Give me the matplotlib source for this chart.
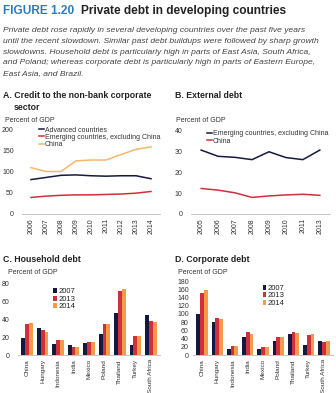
import matplotlib
matplotlib.use("Agg")
import matplotlib.pyplot as plt
import numpy as np

plt.rcParams['font.family'] = ['Liberation Sans', 'DejaVu Sans']

# Panel A: credit to the non-bank corporate sector (percent of GDP)
years_a = ["2006", "2007", "2008", "2009", "2010", "2011", "2012", "2013", "2014"]
advanced = [81, 86, 91, 92, 90, 89, 90, 90, 83]
emerging_a = [39, 42, 44, 45, 45, 46, 47, 49, 53]
china_a = [109, 100, 100, 125, 127, 127, 140, 152, 158]

# Panel B: external debt (percent of GDP)
years_b = ["2005", "2006", "2007", "2008", "2009", "2010", "2011", "2013"]
emerging_b = [30.8, 27.8, 27.3, 26.2, 30.0, 27.2, 26.2, 30.8]
china_b = [12.3, 11.5, 10.2, 8.0, 8.7, 9.2, 9.5, 9.0]

# Panels C and D: household and corporate debt by country
countries = ["China", "Hungary", "Indonesia", "India", "Mexico", "Poland",
             "Thailand", "Turkey", "South Africa"]
house_2007 = [19, 30, 12, 11, 13, 23, 47, 11, 44]
house_2013 = [34, 28, 17, 9, 14, 34, 71, 21, 38]
house_2014 = [36, 26, 17, 9, 14, 35, 73, 21, 37]
corp_2007 = [100, 80, 15, 45, 15, 35, 50, 25, 35]
corp_2013 = [152, 90, 22, 55, 20, 43, 55, 48, 32]
corp_2014 = [158, 87, 21, 52, 20, 44, 54, 52, 33]

NAVY = "#14193f"
RED = "#d0303c"
ORANGE = "#f49a4c"
LIGHT_ORANGE = "#f6b76b"
TEXT = "#333333"
BLUE = "#2c7dbd"

W, H = 336, 393
fig = plt.figure(figsize=(W / 100, H / 100), dpi=100)


def px_axes(x0, y_top, x1, y_bot):
    return fig.add_axes([x0 / W, 1 - y_bot / H, (x1 - x0) / W, (y_bot - y_top) / H])


def ftext(x, y, s, **kw):
    fig.text(x / W, 1 - y / H, s, **kw)


# Header
ftext(3, 11, "FIGURE 1.20", fontsize=8.6, fontweight="bold", color=BLUE, va="center")
ftext(81, 11, "Private debt in developing countries", fontsize=8.6,
      fontweight="bold", color="#222222", va="center")
para = ["Private debt rose rapidly in several developing countries over the past five years",
        "until the recent slowdown. Similar past debt buildups were followed by sharp growth",
        "slowdowns. Household debt is particularly high in parts of East Asia, South Africa,",
        "and Poland; whereas corporate debt is particularly high in parts of Eastern Europe,",
        "East Asia, and Brazil."]
for i, line in enumerate(para):
    ftext(3, 31 + i * 10.6, line, fontsize=6.1, style="italic", color="#444444", va="center")


def style_axes(ax, ypad=5, xsize=5):
    for s in ["top", "right", "left"]:
        ax.spines[s].set_visible(False)
    ax.spines["bottom"].set_color("#bbbbbb")
    ax.spines["bottom"].set_linewidth(0.6)
    ax.tick_params(axis="y", length=0, labelsize=5, colors=TEXT, pad=ypad)
    ax.tick_params(axis="x", length=0, labelsize=xsize, colors=TEXT, pad=3)


# Panel A
ftext(3, 96, "A. Credit to the non-bank corporate", fontsize=6.3, fontweight="bold",
      color="#222222", va="center")
ftext(14, 107, "sector", fontsize=6.3, fontweight="bold", color="#222222", va="center")
ftext(5, 121, "Percent of GDP", fontsize=5, color=TEXT, va="center")
axA = px_axes(22, 129, 160, 214)
xa = np.arange(len(years_a))
axA.plot(xa, advanced, color=NAVY, lw=1.1, label="Advanced countries")
axA.plot(xa, emerging_a, color=RED, lw=1.1, label="Emerging countries, excluding China")
axA.plot(xa, china_a, color=LIGHT_ORANGE, lw=1.1, label="China")
axA.set_ylim(0, 200)
axA.set_yticks([0, 50, 100, 150, 200])
axA.set_xlim(-0.6, len(years_a) - 0.4)
axA.set_xticks(xa)
axA.set_xticklabels(years_a, rotation=90)
style_axes(axA, ypad=6)
axA.legend(loc="upper left", bbox_to_anchor=(0.1, 1.07), frameon=False, fontsize=5,
           handlelength=0.7, handletextpad=0.1, labelspacing=0.05, borderpad=0,
           labelcolor=TEXT)

# Panel B
ftext(175, 96, "B. External debt", fontsize=6.3, fontweight="bold", color="#222222", va="center")
ftext(176, 121, "Percent of GDP", fontsize=5, color=TEXT, va="center")
axB = px_axes(191, 131, 330, 214)
xb = np.arange(len(years_b))
axB.plot(xb, emerging_b, color=NAVY, lw=1.1, label="Emerging countries, excluding China")
axB.plot(xb, china_b, color=RED, lw=1.1, label="China")
axB.set_ylim(0, 40)
axB.set_yticks([0, 10, 20, 30, 40])
axB.set_xlim(-0.6, len(years_b) - 0.4)
axB.set_xticks(xb)
axB.set_xticklabels(years_b, rotation=90)
style_axes(axB, ypad=6)
axB.legend(loc="upper left", bbox_to_anchor=(0.09, 1.05), frameon=False, fontsize=5,
           handlelength=0.7, handletextpad=0.1, labelspacing=0.05, borderpad=0,
           labelcolor=TEXT)


def bar_panel(ax, v07, v13, v14, ymax, yticks, ypad):
    x = np.arange(len(countries))
    w = 0.25
    ax.bar(x - w, v07, w, color=NAVY, label="2007")
    ax.bar(x, v13, w, color=RED, label="2013")
    ax.bar(x + w, v14, w, color=ORANGE, label="2014")
    ax.set_ylim(0, ymax)
    ax.set_yticks(yticks)
    ax.set_xlim(-0.6, len(countries) - 0.4)
    ax.set_xticks(x)
    ax.set_xticklabels(countries, rotation=90)
    style_axes(ax, ypad=ypad, xsize=4.6)
    return ax


# Panel C
ftext(3, 259, "C. Household debt", fontsize=6.3, fontweight="bold", color="#222222", va="center")
ftext(8, 272, "Percent of GDP", fontsize=5, color=TEXT, va="center")
axC = px_axes(18, 283, 160, 355)
bar_panel(axC, house_2007, house_2013, house_2014, 80, [0, 20, 40, 60, 80], ypad=6)
axC.legend(loc="upper left", bbox_to_anchor=(0.22, 0.98), frameon=False, fontsize=5.5,
           handlelength=0.5, handleheight=0.6, handletextpad=0.2, labelspacing=0.05,
           borderpad=0, labelcolor="#222222")

# Panel D
ftext(175, 259, "D. Corporate debt", fontsize=6.3, fontweight="bold", color="#222222", va="center")
ftext(178, 272, "Percent of GDP", fontsize=5, color=TEXT, va="center")
axD = px_axes(193, 281, 333, 355)
bar_panel(axD, corp_2007, corp_2013, corp_2014, 180, list(range(0, 181, 20)), ypad=3)
axD.legend(loc="upper left", bbox_to_anchor=(0.47, 1.0), frameon=False, fontsize=5.5,
           handlelength=0.5, handleheight=0.6, handletextpad=0.2, labelspacing=0.05,
           borderpad=0, labelcolor="#222222")

fig.savefig("out.png", dpi=100)
